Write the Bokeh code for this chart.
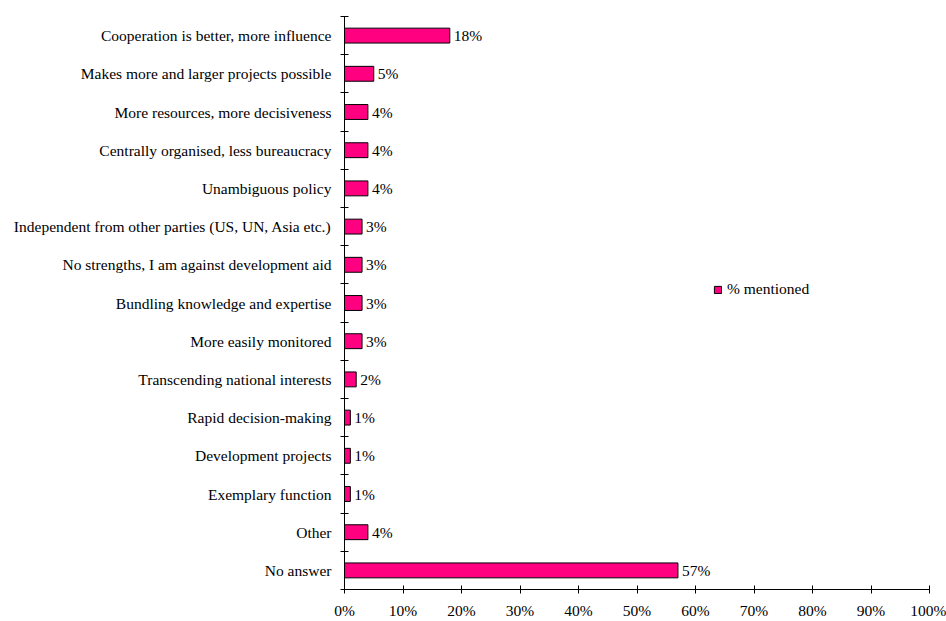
from bokeh.plotting import figure
from bokeh.models import Range1d, FixedTicker, Legend, LegendItem
from bokeh.core.properties import value
from bokeh.embed import file_html
from bokeh.resources import INLINE

categories = [
    "Cooperation is better, more influence",
    "Makes more and larger projects possible",
    "More resources, more decisiveness",
    "Centrally organised, less bureaucracy",
    "Unambiguous policy",
    "Independent from other parties (US, UN, Asia etc.)",
    "No strengths, I am against development aid",
    "Bundling knowledge and expertise",
    "More easily monitored",
    "Transcending national interests",
    "Rapid decision-making",
    "Development projects",
    "Exemplary function",
    "Other",
    "No answer",
]
pct_mentioned = [18, 5, 4, 4, 4, 3, 3, 3, 3, 2, 1, 1, 1, 4, 57]
x_ticks = [0, 10, 20, 30, 40, 50, 60, 70, 80, 90, 100]
x_tick_labels = ["0%", "10%", "20%", "30%", "40%", "50%", "60%", "70%", "80%", "90%", "100%"]
series_name = "% mentioned"

FONT = "Liberation Serif"
FS = "15.5px"
n = len(categories)
centers = [n - i - 0.5 for i in range(n)]
bar_labels = [f"{v}%" for v in pct_mentioned]

p = figure(width=946, height=621, output_backend="svg", toolbar_location=None,
           x_range=Range1d(0, 100), y_range=Range1d(0, n),
           min_border_left=344, min_border_right=17, min_border_top=16, min_border_bottom=29)
p.outline_line_color = None
p.xgrid.grid_line_color = None
p.ygrid.grid_line_color = None

r = p.hbar(y=centers, right=pct_mentioned, left=0, height=0.39,
           fill_color="#FF0080", line_color="black", line_width=1)
p.text(x=pct_mentioned, y=centers, text=bar_labels, x_offset=4,
       text_baseline="middle", text_align="left",
       text_font=value(FONT), text_font_size=FS, text_color="black")

# y axis: labels at centres, ticks at category boundaries
ya = p.yaxis[0]
ya.ticker = FixedTicker(ticks=centers, minor_ticks=list(range(n + 1)))
ya.major_label_overrides = {c: lab for c, lab in zip(centers, categories)}
ya.major_tick_in = 0
ya.major_tick_out = 0
ya.minor_tick_in = 4
ya.minor_tick_out = 4
ya.minor_tick_line_color = "black"
ya.axis_line_color = "black"
ya.major_label_standoff = 9
ya.major_label_text_font = FONT
ya.major_label_text_font_size = FS
ya.major_label_text_color = "black"

xa = p.xaxis[0]
xa.ticker = FixedTicker(ticks=x_ticks, minor_ticks=[])
xa.major_label_overrides = {t: lab for t, lab in zip(x_ticks, x_tick_labels)}
xa.major_tick_in = 4
xa.major_tick_out = 4
xa.major_tick_line_color = "black"
xa.axis_line_color = "black"
xa.major_label_standoff = 8
xa.major_label_text_font = FONT
xa.major_label_text_font_size = FS
xa.major_label_text_color = "black"

legend = Legend(items=[LegendItem(label=series_name, renderers=[r])],
                location=(369, 291), background_fill_alpha=0, border_line_color=None,
                padding=0, margin=0, glyph_width=9, glyph_height=9, label_standoff=5,
                label_text_font=FONT, label_text_font_size=FS, label_text_color="black")
p.add_layout(legend)

open("out.html", "w").write(file_html(p, INLINE))
